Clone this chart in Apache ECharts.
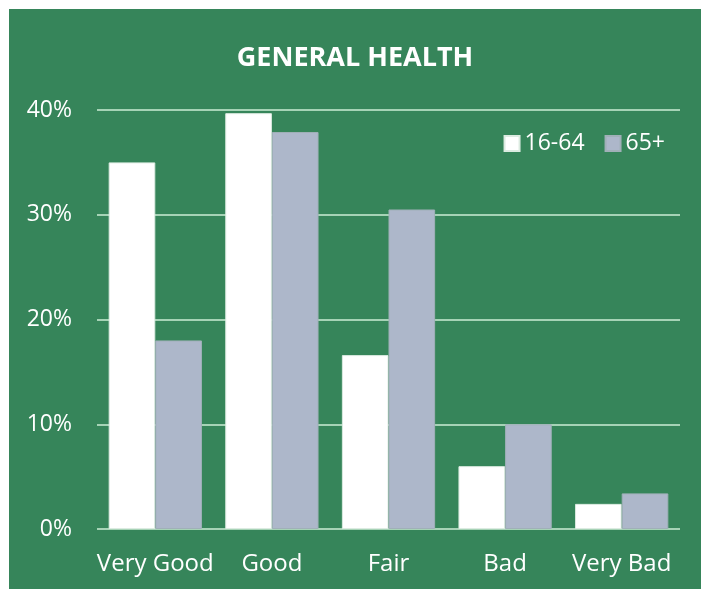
<!DOCTYPE html>
<html>
<head>
<meta charset="utf-8">
<script src="https://cdn.jsdelivr.net/npm/echarts@6/dist/echarts.min.js"></script>
<style>
    html,body{margin:0;padding:0;background:#fff;}
    #health-chart{position:absolute;left:9px;top:9px;width:692px;height:580px;background:#36855a;}
</style>
</head>
<body>
<div id="health-chart"></div>
<script>
var categories = ['Very Good','Good','Fair','Bad','Very Bad'];
var seriesNames = ['16-64','65+'];
var young = [35.0, 39.7, 16.6, 6.0, 2.4];
var old = [18.0, 37.9, 30.5, 10.0, 3.4];
var yTicks = [0, 10, 20, 30, 40];

var healthChart = echarts.init(document.getElementById('health-chart'));

var healthChartOption = {
    textStyle : {
        fontFamily : 'Open Sans'
    },
    title : {
        text : 'GENERAL HEALTH',
        left : 'center',
        top : 36,
        padding : 0,
        textStyle : {
            color : '#fff',
            fontSize : 27,
            fontWeight : 'bold',
            fontFamily : 'Open Sans'
        }
    },
    legend : {
        data : seriesNames,
        right : 31,
        top : 118,
        icon : 'rect',
        itemWidth : 15,
        itemHeight : 15,
        itemGap : 20,
        textStyle : {
            color : '#fff',
            fontSize : 23,
            fontFamily : 'Open Sans'
        }
    },
    grid : {
        left : 88,
        right : 21,
        top : 101,
        bottom : 60
    },
    xAxis : {
        type : 'category',
        data : categories,
        axisLine : { show : false },
        axisTick : { show : false },
        axisLabel : {
            color : '#fff',
            fontSize : 24,
            margin : 23,
            interval : 0
        }
    },
    yAxis : {
        type : 'value',
        min : yTicks[0],
        max : yTicks[yTicks.length - 1],
        interval : 10,
        axisLine : { show : false },
        axisTick : { show : false },
        axisLabel : {
            color : '#fff',
            fontSize : 23,
            margin : 25,
            formatter : '{value}%'
        },
        splitLine : {
            lineStyle : {
                color : '#a6d3b6',
                width : 2
            }
        }
    },
    series : [
        {
            name : seriesNames[0],
            type : 'bar',
            barGap : '0%',
            barCategoryGap : '20%',
            itemStyle : {
                color : '#ffffff',
                borderColor : '#dcebe1',
                borderWidth : 1
            },
            data : young
        },
        {
            name : seriesNames[1],
            type : 'bar',
            itemStyle : {
                color : '#adb7ca',
                borderColor : '#a0b0b8',
                borderWidth : 1
            },
            data : old
        }
    ]
};

healthChart.setOption(healthChartOption);
</script>
</body>
</html>
